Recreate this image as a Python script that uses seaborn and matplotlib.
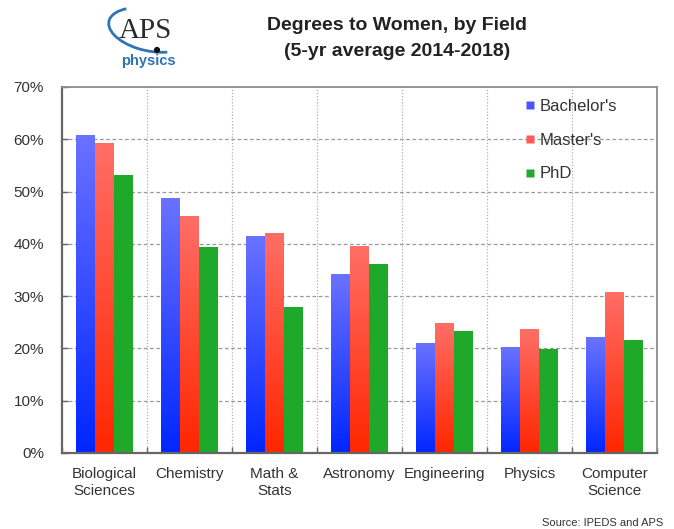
import numpy as np
import pandas as pd
import matplotlib
matplotlib.use("Agg")
import matplotlib.pyplot as plt
from matplotlib import font_manager
from matplotlib.lines import Line2D
from matplotlib.patches import Arc, Circle
from matplotlib.colors import to_rgb
import seaborn as sns

# Share of degrees awarded to women, 5-yr average 2014-2018
fields = ["Biological\nSciences", "Chemistry", "Math &\nStats", "Astronomy",
          "Engineering", "Physics", "Computer\nScience"]
degrees = ["Bachelor's", "Master's", "PhD"]
bachelors = [60.7, 48.7, 41.5, 34.2, 21.0, 20.1, 22.0]
masters = [59.1, 45.2, 42.0, 39.5, 24.7, 23.6, 30.7]
phd = [53.1, 39.3, 27.9, 36.1, 23.3, 19.8, 21.5]
yticks = [0, 10, 20, 30, 40, 50, 60, 70]

df = pd.DataFrame({
    "field": fields * 3,
    "degree": [d for d in degrees for _ in fields],
    "share": bachelors + masters + phd,
})

sns.set_theme(style="white")
names = {f.name for f in font_manager.fontManager.ttflist}
narrow = "Liberation Sans Narrow" if "Liberation Sans Narrow" in names else "Liberation Sans"
plt.rcParams["font.family"] = ["Liberation Sans", "DejaVu Sans"]

# top / bottom colours of each bar's vertical gradient
grad = {
    "Bachelor's": ("#6a72ff", "#0026ff"),
    "Master's": ("#ff6e66", "#ff2600"),
    "PhD": ("#1ea92a", "#1ea92a"),
}
swatch = {"Bachelor's": "#4655ff", "Master's": "#ff5a55", "PhD": "#22a933"}

W, H = 674, 529
fig = plt.figure(figsize=(W / 100, H / 100), dpi=100)
ax = fig.add_axes([62 / W, 76 / H, 595 / W, 366 / H])

sns.barplot(data=df, x="field", y="share", hue="degree", order=fields,
            hue_order=degrees, palette=swatch, width=0.67, saturation=1,
            legend=False, edgecolor="none", linewidth=0, ax=ax)

# replace each flat bar with a vertical gradient clipped to the bar
for deg, cont in zip(degrees, ax.containers):
    top, bot = np.array(to_rgb(grad[deg][0])), np.array(to_rgb(grad[deg][1]))
    t = np.linspace(0, 1, 256)[:, None]
    img = (bot + (top - bot) * t)[:, None, :]
    for bar in cont:
        x0, w, h = bar.get_x(), bar.get_width(), bar.get_height()
        bar.set_facecolor("none")
        ax.imshow(img, extent=(x0, x0 + w, 0, h), origin="lower",
                  aspect="auto", interpolation="bilinear", zorder=2)

ax.set_xlim(-0.5, len(fields) - 0.5)
ax.set_ylim(0, 70)
ax.set_yticks(yticks)
ax.set_yticklabels([f"{v}%" for v in yticks])
ax.set_xlabel("")
ax.set_ylabel("")

# grid: dashed horizontals, dotted separators between fields
ax.set_axisbelow(True)
for v in yticks[1:-1]:
    ax.axhline(v, color="#9a9a9a", lw=0.9, ls=(0, (3, 2)), zorder=0.5)
for k in range(1, len(fields)):
    ax.axvline(k - 0.5, color="#b0b0b0", lw=0.9, ls=(0, (1, 1.5)), zorder=0.5)
ax.set_xticks(np.arange(len(fields) + 1) - 0.5, minor=True)

for s in ax.spines.values():
    s.set_visible(True)
    s.set_color("#8c8c8c")
    s.set_linewidth(1.3)
ax.spines["left"].set_color("#666666")
ax.spines["bottom"].set_color("#666666")
ax.spines["left"].set_linewidth(1.6)
ax.spines["bottom"].set_linewidth(1.6)

ax.tick_params(axis="y", direction="in", length=4, width=1, color="#666666",
               pad=13, labelsize=11, labelcolor="#333333", left=True)
ax.tick_params(axis="x", which="major", length=0, pad=10, labelsize=11,
               labelcolor="#333333")
ax.tick_params(axis="x", which="minor", direction="in", length=4, width=1,
               color="#666666", bottom=True)
for lab in ax.get_xticklabels():
    lab.set_linespacing(1.25)

handles = [Line2D([], [], marker="s", ls="none", markersize=5.5,
                  markerfacecolor=swatch[d], markeredgecolor="none") for d in degrees]
ax.legend(handles, degrees, loc="upper left", bbox_to_anchor=(455 / 595, 0.985),
          frameon=False, fontsize=12, handlelength=0.7, handletextpad=0.25,
          labelspacing=1.12, borderaxespad=0, labelcolor="#333333")

# title
fig.text(397 / W, 1 - 25 / H, "Degrees to Women, by Field", ha="center",
         va="center", fontsize=14, fontweight="bold", color="#222222",
         family=[narrow, "DejaVu Sans"])
fig.text(397 / W, 1 - 51 / H, "(5-yr average 2014-2018)", ha="center",
         va="center", fontsize=14, fontweight="bold", color="#222222",
         family=[narrow, "DejaVu Sans"])

# APS physics mark
fig.text(145 / W, 1 - 31 / H, "APS", ha="center", va="center", fontsize=21,
         family=["Liberation Serif", "DejaVu Serif"], color="#2b2b2b")
fig.text(148 / W, 1 - 61 / H, "physics", ha="center", va="center", fontsize=10.5,
         fontweight="bold", color="#2f74b5", family=[narrow, "DejaVu Sans"])
arc = Arc((150, H - 30), 84, 42, angle=-12, theta1=150, theta2=320,
          transform=None, color="#2f74b5", lw=2.0, zorder=5)
fig.add_artist(arc)
fig.add_artist(Circle((157, H - 50), 2.4, transform=None, color="#111111", zorder=6))

fig.text(663 / W, 1 - 523 / H, "Source: IPEDS and APS", ha="right", va="center",
         fontsize=8, color="#333333", family=[narrow, "DejaVu Sans"])

fig.savefig("out.png", dpi=100)
